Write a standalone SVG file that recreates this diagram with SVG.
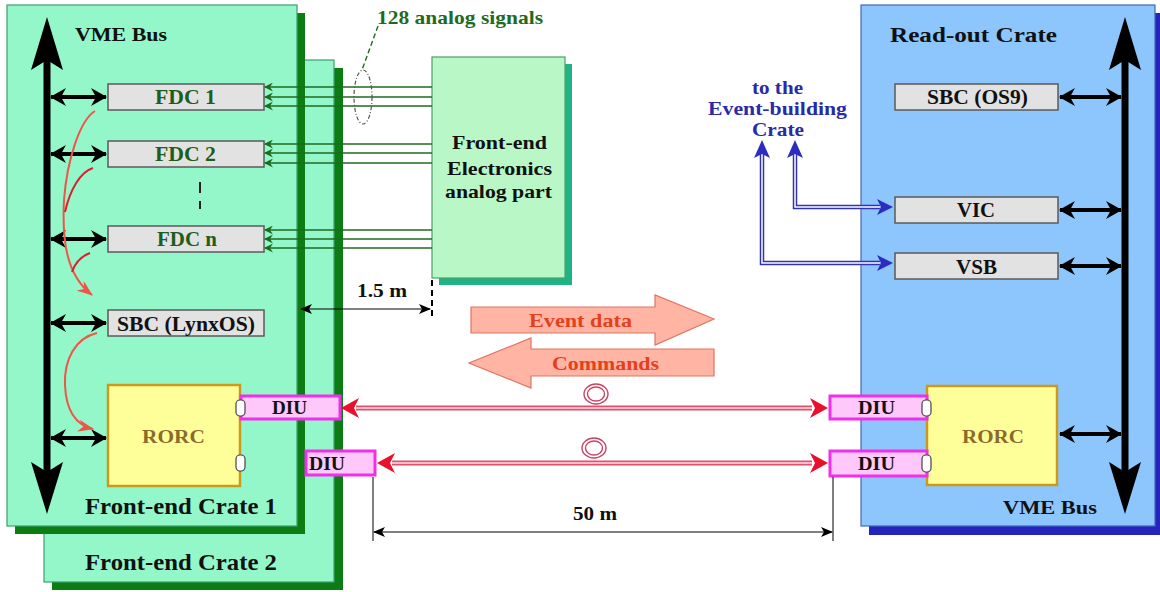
<svg xmlns="http://www.w3.org/2000/svg" width="1160" height="592" viewBox="0 0 1160 592">
<style>
text{font-family:"Liberation Serif","Times New Roman",serif;font-weight:bold;}
.crate{fill:#94F7CA;stroke:#3E9E6E;stroke-width:1.2;}
.gshadow{fill:#0B7D12;}
.bshadow{fill:#2424BC;}
.rcrate{fill:#8CC6FD;stroke:#4466BB;stroke-width:1.2;}
.card{fill:#E2E2E2;stroke:#5A5A5A;stroke-width:1.5;}
.fdc{font-size:20px;fill:#1C5E1C;}
.blk{font-size:20px;fill:#111;}
.rorc{fill:#FFFF99;stroke:#C99A1E;stroke-width:2.5;}
.rorct{font-size:18px;fill:#8C6A2C;}
.diu{fill:#FFC8FA;stroke:#F030E8;stroke-width:3;}
.diut{font-size:19px;fill:#111;}
.conn{fill:#FFFFFF;stroke:#444;stroke-width:1.2;}
.bus{stroke:#000;stroke-width:7;fill:none;}
.biarrow{stroke:#000;stroke-width:4;fill:none;marker-start:url(#blk);marker-end:url(#blk);}
.sig{stroke:#1F6A1F;stroke-width:1.3;fill:none;marker-end:url(#grn);}
.redc{stroke:#EE5548;stroke-width:2;fill:none;}
.redd{stroke:#D8202E;stroke-width:2;fill:none;}
.linkout{stroke:#E0506C;stroke-width:5;fill:none;}
.linkin{stroke:#FFE0E6;stroke-width:1.6;fill:none;}
.blueout{stroke:#3333B0;stroke-width:4.5;fill:none;}
.bluein{stroke:#FFFFFF;stroke-width:1.5;fill:none;}
.dim{stroke:#000;stroke-width:1;fill:none;marker-start:url(#thin);marker-end:url(#thin);}
.coil{fill:none;stroke:#C84466;stroke-width:1.4;}
.bigarrow{fill:#FFB4A4;stroke:#E07462;stroke-width:1.2;}
.bigt{font-size:19px;fill:#E4401C;}
.blue{font-size:19px;fill:#2A2AA8;}
.dark{fill:#111;}
</style>
<defs>
<marker id="blk" viewBox="0 0 16 18" refX="15" refY="9" markerWidth="16" markerHeight="18" markerUnits="userSpaceOnUse" orient="auto-start-reverse">
<path d="M0,0 L16,9 L0,18 L5,9 z" fill="#000"/>
</marker>
<marker id="grn" viewBox="0 0 9 9" refX="8" refY="4.5" markerWidth="9" markerHeight="9" markerUnits="userSpaceOnUse" orient="auto">
<path d="M0,0 L9,4.5 L0,9 L3,4.5 z" fill="#1F6A1F"/>
</marker>
<marker id="thin" viewBox="0 0 12 10" refX="11" refY="5" markerWidth="12" markerHeight="10" markerUnits="userSpaceOnUse" orient="auto-start-reverse">
<path d="M0,0 L12,5 L0,10 L3,5 z" fill="#000"/>
</marker>
<marker id="redh" viewBox="0 0 16 12" refX="15" refY="6" markerWidth="16" markerHeight="12" markerUnits="userSpaceOnUse" orient="auto">
<path d="M0,0 L16,6 L0,12 L5,6 z" fill="#EE5548"/>
</marker>
</defs>

<rect width="1160" height="592" fill="#FFFFFF"/>

<!-- Front-end Crate 2 -->
<g id="crate2">
<rect class="gshadow" x="52" y="68" width="291" height="522"/>
<rect class="crate" x="44" y="60" width="290" height="522"/>
<text class="dark" x="85" y="570" font-size="23" textLength="192" lengthAdjust="spacingAndGlyphs">Front-end Crate 2</text>
</g>

<!-- Front-end Crate 1 -->
<g id="crate1">
<rect class="gshadow" x="15" y="13" width="290" height="521"/>
<rect class="crate" x="7" y="5" width="290" height="521"/>
<text class="dark" x="75" y="41" font-size="19" textLength="92" lengthAdjust="spacingAndGlyphs">VME Bus</text>
<text class="dark" x="85" y="514" font-size="23" textLength="192" lengthAdjust="spacingAndGlyphs">Front-end Crate 1</text>
</g>

<!-- Read-out Crate -->
<g id="readout-crate">
<rect class="bshadow" x="869" y="13" width="300" height="522"/>
<rect class="rcrate" x="861" y="5" width="294" height="521"/>
<text class="dark" x="890" y="42" font-size="22" textLength="167" lengthAdjust="spacingAndGlyphs">Read-out Crate</text>
<text class="dark" x="1003" y="514" font-size="19" textLength="94" lengthAdjust="spacingAndGlyphs">VME Bus</text>
</g>

<!-- Front-end electronics -->
<g id="fee">
<rect x="439" y="64" width="133" height="221" fill="#1FB385"/>
<rect x="432" y="57" width="133" height="221" fill="#B9F7C6" stroke="#4E9E6A" stroke-width="1.2"/>
<text class="dark" x="452" y="149" font-size="19" textLength="95" lengthAdjust="spacingAndGlyphs">Front-end</text>
<text class="dark" x="447" y="175" font-size="19" textLength="105" lengthAdjust="spacingAndGlyphs">Electronics</text>
<text class="dark" x="445" y="198" font-size="19" textLength="107" lengthAdjust="spacingAndGlyphs">analog part</text>
</g>

<!-- Left cards -->
<g id="fdc1"><rect class="card" x="108" y="84" width="156" height="26"/><text class="fdc" x="155" y="104" textLength="61" lengthAdjust="spacingAndGlyphs">FDC 1</text></g>
<g id="fdc2"><rect class="card" x="108" y="141" width="156" height="26"/><text class="fdc" x="155" y="161" textLength="61" lengthAdjust="spacingAndGlyphs">FDC 2</text></g>
<g id="fdcn"><rect class="card" x="108" y="226" width="156" height="26"/><text class="fdc" x="157" y="246" textLength="60" lengthAdjust="spacingAndGlyphs">FDC n</text></g>
<g id="sbc-lynx"><rect class="card" x="108" y="310" width="156" height="26"/><text class="blk" x="117" y="331" textLength="138" lengthAdjust="spacingAndGlyphs">SBC (LynxOS)</text></g>
<g id="rorc-left">
<rect class="rorc" x="108" y="385" width="132" height="101"/>
<text class="rorct" x="142" y="443" textLength="63" lengthAdjust="spacingAndGlyphs">RORC</text>
</g>
<g id="diu-left-1"><rect class="diu" x="241" y="396" width="99" height="23"/><text class="diut" x="272" y="414" textLength="35" lengthAdjust="spacingAndGlyphs">DIU</text></g>
<g id="diu-left-2"><rect class="diu" x="306" y="451" width="69" height="24"/><text class="diut" x="309" y="470" textLength="36" lengthAdjust="spacingAndGlyphs">DIU</text></g>
<rect class="conn" x="236" y="400" width="9" height="16" rx="4"/>
<rect class="conn" x="236" y="455" width="9" height="16" rx="4"/>

<!-- Right cards -->
<g id="sbc-os9"><rect class="card" x="895" y="84" width="163" height="26"/><text class="blk" x="927" y="104" textLength="101" lengthAdjust="spacingAndGlyphs">SBC (OS9)</text></g>
<g id="vic"><rect class="card" x="895" y="197" width="163" height="26"/><text class="blk" x="957" y="217" textLength="38" lengthAdjust="spacingAndGlyphs">VIC</text></g>
<g id="vsb"><rect class="card" x="895" y="253" width="163" height="26"/><text class="blk" x="956" y="274" textLength="41" lengthAdjust="spacingAndGlyphs">VSB</text></g>
<g id="rorc-right">
<rect class="rorc" x="927" y="386" width="130" height="99"/>
<text class="rorct" x="962" y="443" textLength="62" lengthAdjust="spacingAndGlyphs">RORC</text>
</g>
<g id="diu-right-1"><rect class="diu" x="830" y="396" width="97" height="23"/><text class="diut" x="858" y="414" textLength="37" lengthAdjust="spacingAndGlyphs">DIU</text></g>
<g id="diu-right-2"><rect class="diu" x="830" y="451" width="97" height="25"/><text class="diut" x="858" y="470" textLength="37" lengthAdjust="spacingAndGlyphs">DIU</text></g>
<rect class="conn" x="922" y="400" width="9" height="16" rx="4"/>
<rect class="conn" x="922" y="455" width="9" height="17" rx="4"/>

<!-- Labels -->
<g id="labels">
<text x="377" y="24" font-size="19" fill="#1E6B1E" textLength="166" lengthAdjust="spacingAndGlyphs">128 analog signals</text>
<text class="blue" x="752" y="94" textLength="51" lengthAdjust="spacingAndGlyphs">to the</text>
<text class="blue" x="708" y="115" textLength="139" lengthAdjust="spacingAndGlyphs">Event-building</text>
<text class="blue" x="752" y="136" textLength="52" lengthAdjust="spacingAndGlyphs">Crate</text>
<text class="dark" x="357" y="297" font-size="18" textLength="50" lengthAdjust="spacingAndGlyphs">1.5 m</text>
<text class="dark" x="573" y="520" font-size="18" textLength="44" lengthAdjust="spacingAndGlyphs">50 m</text>
</g>

<!-- Big arrows -->
<g id="event-data">
<path class="bigarrow" d="M471,307 L655,307 L655,295 L714,319 L655,345 L655,333 L471,333 z"/>
<text class="bigt" x="529" y="327" textLength="103" lengthAdjust="spacingAndGlyphs">Event data</text>
</g>
<g id="commands">
<path class="bigarrow" d="M714,349 L531,349 L531,338 L469,363 L531,388 L531,376 L714,376 z"/>
<text class="bigt" x="552" y="370" textLength="107" lengthAdjust="spacingAndGlyphs">Commands</text>
</g>

<g id="connectors">
<!-- VME buses -->
<line class="bus" x1="47" y1="55" x2="47" y2="475"/>
<path d="M47,17 L31,70 L47,60 L63,70 z" fill="#000"/>
<path d="M47,514 L31,462 L47,472 L63,462 z" fill="#000"/>
<line class="bus" x1="1125" y1="55" x2="1125" y2="475"/>
<path d="M1125,17 L1109,70 L1125,60 L1141,70 z" fill="#000"/>
<path d="M1125,514 L1109,462 L1125,472 L1141,462 z" fill="#000"/>

<!-- Bus bi-arrows left -->
<line class="biarrow" x1="51" y1="97" x2="106" y2="97"/>
<line class="biarrow" x1="51" y1="154" x2="106" y2="154"/>
<line class="biarrow" x1="51" y1="239" x2="106" y2="239"/>
<line class="biarrow" x1="51" y1="323" x2="106" y2="323"/>
<line class="biarrow" x1="51" y1="438" x2="106" y2="438"/>
<!-- right -->
<line class="biarrow" x1="1060" y1="97" x2="1121" y2="97"/>
<line class="biarrow" x1="1060" y1="210" x2="1121" y2="210"/>
<line class="biarrow" x1="1060" y1="266" x2="1121" y2="266"/>
<line class="biarrow" x1="1060" y1="434" x2="1121" y2="434"/>

<!-- FDC dots -->
<line x1="200" y1="182" x2="200" y2="209" stroke="#222" stroke-width="2" stroke-dasharray="11,8"/>

<!-- analog signal lines -->
<line class="sig" x1="432" y1="87" x2="265" y2="87"/>
<line class="sig" x1="432" y1="97" x2="265" y2="97"/>
<line class="sig" x1="432" y1="106" x2="265" y2="106"/>
<line class="sig" x1="432" y1="144" x2="265" y2="144"/>
<line class="sig" x1="432" y1="153" x2="265" y2="153"/>
<line class="sig" x1="432" y1="163" x2="265" y2="163"/>
<line class="sig" x1="432" y1="230" x2="265" y2="230"/>
<line class="sig" x1="432" y1="239" x2="265" y2="239"/>
<line class="sig" x1="432" y1="248" x2="265" y2="248"/>
<ellipse cx="363" cy="97" rx="9" ry="27" fill="none" stroke="#555" stroke-width="1.2" stroke-dasharray="4,2,1,2"/>
<line x1="378" y1="26" x2="362" y2="70" stroke="#1E6B1E" stroke-width="1.4" stroke-dasharray="5,3"/>

<!-- red flow curves -->
<path class="redc" d="M95,111 C80,120 67,160 64,200 C62,240 66,275 92,295" marker-end="url(#redh)"/>
<path class="redd" d="M93,168 C80,172 70,190 65,212"/>
<path class="redd" d="M90,253 C82,256 75,263 72,272"/>
<path class="redc" d="M97,333 C75,338 64,360 65,385 C66,410 76,425 93,429" marker-end="url(#redh)"/>

<!-- DIU optical links -->
<line class="linkout" x1="356" y1="408" x2="812" y2="408"/>
<line class="linkin" x1="356" y1="408" x2="812" y2="408"/>
<path d="M341,408 L359,398 L354,408 L359,418 z" fill="#E8102C"/>
<path d="M828,408 L810,398 L815,408 L810,418 z" fill="#E8102C"/>
<line class="linkout" x1="392" y1="463" x2="812" y2="463"/>
<line class="linkin" x1="392" y1="463" x2="812" y2="463"/>
<path d="M377,463 L395,453 L390,463 L395,473 z" fill="#E8102C"/>
<path d="M828,463 L810,453 L815,463 L810,473 z" fill="#E8102C"/>
<ellipse class="coil" cx="596" cy="394" rx="12" ry="10"/>
<ellipse class="coil" cx="596" cy="394" rx="8.5" ry="7"/>
<ellipse class="coil" cx="594" cy="448" rx="12" ry="10"/>
<ellipse class="coil" cx="594" cy="448" rx="8.5" ry="7"/>

<!-- blue links to event building -->
<path class="blueout" d="M762,152 L762,263 L880,263"/>
<path class="bluein" d="M762,152 L762,263 L880,263"/>
<path d="M762,140 L754,158 L762,154 L770,158 z" fill="#2C2CC0"/>
<path d="M893,263 L877,255 L881,263 L877,271 z" fill="#2C2CC0"/>
<path class="blueout" d="M795,152 L795,207 L880,207"/>
<path class="bluein" d="M795,152 L795,207 L880,207"/>
<path d="M795,140 L787,158 L795,154 L803,158 z" fill="#2C2CC0"/>
<path d="M893,207 L877,199 L881,207 L877,215 z" fill="#2C2CC0"/>

<!-- dimensions -->
<line class="dim" x1="301" y1="309" x2="430" y2="309"/>
<line x1="432" y1="280" x2="432" y2="320" stroke="#000" stroke-width="2" stroke-dasharray="6,4"/>
<line x1="373" y1="477" x2="373" y2="541" stroke="#000" stroke-width="1"/>
<line x1="833" y1="477" x2="833" y2="541" stroke="#000" stroke-width="1"/>
<line class="dim" x1="374" y1="532" x2="832" y2="532"/>
</g>
</svg>
